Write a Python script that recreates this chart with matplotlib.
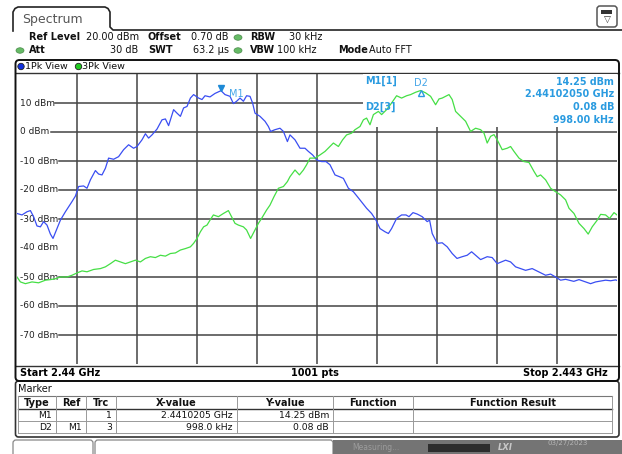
import numpy as np
import matplotlib
matplotlib.use("Agg")
import matplotlib.pyplot as plt
from matplotlib.patches import Rectangle, FancyBboxPatch, Ellipse, Circle

plt.rcParams['font.family'] = ['DejaVu Sans']

# frequency axis (MHz)
f_start = 2440.0
f_stop = 2443.0

# trace 1 (1Pk View, blue) - offset from start in MHz / level in dBm
blue_off = [0.000, 0.025, 0.050, 0.067, 0.083, 0.100, 0.117, 0.133, 0.150, 0.167,
            0.180, 0.197, 0.217, 0.242, 0.258, 0.275, 0.292, 0.308, 0.333, 0.350,
            0.367, 0.392, 0.408, 0.425, 0.442, 0.458, 0.483, 0.508, 0.533, 0.558,
            0.583, 0.600, 0.625, 0.642, 0.658, 0.675, 0.700, 0.725, 0.742, 0.758,
            0.783, 0.800, 0.817, 0.833, 0.850, 0.867, 0.883, 0.908, 0.925, 0.940,
            0.965, 0.990, 1.020, 1.040, 1.065, 1.082, 1.098, 1.115, 1.132, 1.148,
            1.165, 1.178, 1.190, 1.215, 1.240, 1.257, 1.268, 1.290, 1.315, 1.332,
            1.352, 1.365, 1.390, 1.415, 1.440, 1.457, 1.478, 1.498, 1.523, 1.545,
            1.565, 1.590, 1.612, 1.632, 1.657, 1.682, 1.702, 1.748, 1.773, 1.795,
            1.815, 1.840, 1.857, 1.873, 1.898, 1.923, 1.945, 1.960, 1.980, 2.001,
            2.026, 2.051, 2.063, 2.076, 2.101, 2.126, 2.151, 2.176, 2.200, 2.226,
            2.251, 2.273, 2.318, 2.351, 2.376, 2.401, 2.443, 2.468, 2.493, 2.518,
            2.543, 2.576, 2.608, 2.643, 2.668, 2.693, 2.718, 2.743, 2.784, 2.810,
            2.843, 2.868, 2.893, 2.918, 2.943, 2.968, 2.993, 3.000]
blue_dbm = [-28.1, -28.6, -27.5, -27.1, -29.2, -32.4, -32.7, -30.9, -32.1, -35.2,
            -36.7, -33.8, -30.4, -27.5, -25.8, -24.0, -22.1, -18.8, -18.6, -19.4,
            -16.5, -13.3, -14.5, -14.8, -12.5, -9.0, -9.4, -8.5, -6.1, -4.4,
            -5.6, -5.0, -2.7, -0.6, -2.1, -1.0, 1.0, 4.2, 4.5, 2.2,
            7.7, 6.5, 5.4, 8.3, 8.8, 11.7, 12.9, 11.7, 11.2, 12.5,
            12.1, 13.3, 14.25, 12.9, 12.3, 9.8, 10.6, 11.7, 10.6, 12.5,
            12.3, 10.0, 6.5, 5.4, 3.7, 1.9, 0.2, 0.8, 1.3, 0.2,
            -3.3, -1.0, -2.7, -5.6, -5.6, -6.7, -7.9, -9.6, -10.2, -10.2,
            -11.3, -14.8, -15.4, -16.0, -19.4, -20.6, -22.3, -26.3, -28.1, -30.4,
            -33.3, -34.4, -35.0, -33.3, -29.8, -28.6, -28.6, -29.2, -27.8, -28.3,
            -29.2, -30.9, -30.4, -35.0, -38.4, -38.2, -39.6, -41.9, -43.6, -43.0,
            -42.5, -41.3, -44.0, -43.0, -43.3, -45.4, -44.2, -44.8, -46.5, -47.1,
            -47.7, -47.1, -48.2, -49.4, -49.0, -50.0, -51.1, -50.8, -51.5, -50.9,
            -51.7, -52.3, -51.7, -51.4, -51.1, -51.3, -51.0, -51.2]

# trace 3 (3Pk View, green)
green_off = [0.000, 0.017, 0.042, 0.075, 0.108, 0.142, 0.167, 0.192, 0.217, 0.250,
             0.275, 0.300, 0.325, 0.350, 0.383, 0.417, 0.442, 0.467, 0.492, 0.517,
             0.542, 0.567, 0.592, 0.617, 0.642, 0.667, 0.692, 0.717, 0.742, 0.767,
             0.792, 0.817, 0.842, 0.867, 0.883, 0.900, 0.917, 0.933, 0.950, 0.965,
             0.982, 1.007, 1.032, 1.057, 1.073, 1.090, 1.107, 1.132, 1.148, 1.168,
             1.190, 1.207, 1.223, 1.248, 1.265, 1.285, 1.307, 1.332, 1.352, 1.365,
             1.390, 1.412, 1.432, 1.448, 1.465, 1.490, 1.515, 1.540, 1.565, 1.582,
             1.607, 1.628, 1.648, 1.673, 1.690, 1.715, 1.732, 1.748, 1.765, 1.782,
             1.807, 1.823, 1.848, 1.873, 1.898, 1.923, 1.948, 1.968, 1.993, 2.018,
             2.043, 2.068, 2.093, 2.110, 2.126, 2.143, 2.160, 2.176, 2.193, 2.218,
             2.243, 2.268, 2.293, 2.318, 2.335, 2.351, 2.368, 2.385, 2.401, 2.426,
             2.451, 2.468, 2.485, 2.510, 2.535, 2.560, 2.585, 2.601, 2.618, 2.643,
             2.668, 2.693, 2.718, 2.743, 2.760, 2.785, 2.810, 2.835, 2.856, 2.876,
             2.901, 2.918, 2.943, 2.963, 2.985, 3.000]
green_dbm = [-50.0, -51.7, -52.3, -51.7, -52.0, -51.1, -50.9, -50.6, -50.0, -50.0,
             -49.4, -48.6, -47.9, -48.2, -47.4, -47.1, -46.5, -45.4, -44.2, -44.8,
             -45.4, -44.8, -44.2, -44.8, -43.6, -43.0, -43.3, -42.5, -42.8, -41.9,
             -41.7, -40.7, -40.2, -39.6, -38.4, -36.7, -34.4, -32.7, -32.1, -30.4,
             -28.6, -29.2, -28.1, -27.1, -29.2, -31.5, -32.1, -32.7, -33.8, -36.7,
             -33.8, -31.5, -29.8, -26.9, -25.2, -22.3, -19.4, -18.8, -17.1, -15.4,
             -13.1, -14.8, -13.1, -11.3, -9.0, -9.0, -7.9, -6.7, -5.0, -3.8,
             -5.0, -2.7, -1.0, -0.4, 0.8, 1.9, 4.2, 4.8, 2.5, 6.0,
             7.1, 6.0, 7.7, 10.0, 12.5, 11.7, 12.5, 12.9, 13.7, 14.3,
             13.5, 12.3, 9.4, 11.4, 11.7, 12.3, 12.9, 11.2, 7.1, 5.4,
             3.7, 0.2, 1.3, 0.8, -0.4, -3.8, -1.5, -0.9, -2.7, -6.1,
             -5.6, -5.0, -6.7, -9.0, -10.2, -10.5, -13.6, -15.4, -14.8, -16.5,
             -19.4, -20.6, -21.7, -23.4, -26.3, -28.1, -31.5, -33.3, -35.2, -32.7,
             -30.4, -28.4, -28.6, -29.8, -27.8, -28.6]

y_labels = [10, 0, -10, -20, -30, -40, -50, -60, -70]
y_grid = [10, 0, -10, -20, -30, -50, -60, -70]

m1_off, m1_val = 1.0205, 14.25
d2_off, d2_val = 2.0185, 14.33

table_header = ["Type", "Ref", "Trc", "X-value", "Y-value", "Function", "Function Result"]
table_rows = [["M1", "", "1", "2.4410205 GHz", "14.25 dBm", "", ""],
              ["D2", "M1", "3", "998.0 kHz", "0.08 dB", "", ""]]

BLUE = '#3a4ef2'
GREEN = '#45df45'
MK = '#2a9be0'
GRID = '#444444'

fig = plt.figure(figsize=(6.22, 4.54), dpi=100)
fig.patch.set_facecolor('white')

# ---- overlay in pixel coords for the instrument frame ----
ov = fig.add_axes([0, 0, 1, 1])
ov.set_xlim(0, 622)
ov.set_ylim(454, 0)
ov.axis('off')

# spectrum tab
ov.plot([13, 13, 15, 18, 105, 108, 110, 110, 113, 622],
        [31, 12, 8.5, 7, 7, 8.5, 12, 27, 30, 30], color='#222222', lw=1.2)
ov.text(22, 19, "Spectrum", fontsize=9, color='#555555', va='center')

# top right icon
ov.add_patch(FancyBboxPatch((597, 6), 20, 21, boxstyle="round,pad=0,rounding_size=3",
                            fc='white', ec='#555555', lw=1.1))
ov.add_patch(Rectangle((601, 10), 11, 4, fc='#333333', ec='none'))
ov.text(607, 20.5, "\u25bd", fontsize=6.5, ha='center', va='center', color='#333333')

# settings rows
def hdr(x, y, s, bold=False, ha='left'):
    ov.text(x, y, s, fontsize=7.0, fontweight='bold' if bold else 'normal',
            ha=ha, va='center', color='#111111')

hdr(29, 37, "Ref Level", True)
hdr(86, 37, "20.00 dBm")
hdr(148, 37, "Offset", True)
hdr(191, 37, "0.70 dB")
hdr(250, 37, "RBW", True)
hdr(289, 37, "30 kHz")
hdr(29, 50, "Att", True)
hdr(138, 50, "30 dB", ha='right')
hdr(148, 50, "SWT", True)
hdr(193, 50, "63.2 \u00b5s")
hdr(250, 50, "VBW", True)
hdr(277, 50, "100 kHz")
hdr(338, 50, "Mode", True)
hdr(369, 50, "Auto FFT")
for (ex, ey) in [(238, 37.5), (238, 50.5), (20, 50.5)]:
    ov.add_patch(Ellipse((ex, ey), 8, 5.5, fc='#66bb66', ec='#4a8a4a', lw=0.5))

# diagram frame
ov.add_patch(FancyBboxPatch((15.5, 60), 603.5, 321, boxstyle="round,pad=0,rounding_size=4",
                            fc='none', ec='#111111', lw=1.4, zorder=5))
ov.plot([15.5, 619], [72.5, 72.5], color='#333333', lw=1.0)
ov.plot([15.5, 619], [365.5, 365.5], color='#333333', lw=1.0)
ov.add_patch(Circle((21, 66.5), 3.2, fc='#1030e0', ec='#222222', lw=0.6))
ov.text(25, 66.5, "1Pk View", fontsize=6.8, va='center', color='#111111')
ov.add_patch(Circle((78.5, 66.5), 3.2, fc='#20cc20', ec='#222222', lw=0.6))
ov.text(82, 66.5, "3Pk View", fontsize=6.8, va='center', color='#111111')

ov.text(20, 373, "Start 2.44 GHz", fontsize=7, fontweight='bold', va='center')
ov.text(315, 373, "1001 pts", fontsize=7, fontweight='bold', va='center', ha='center')
ov.text(608, 373, "Stop 2.443 GHz", fontsize=7, fontweight='bold', va='center', ha='right')

# marker table
ov.add_patch(FancyBboxPatch((15.5, 381), 603.5, 56, boxstyle="round,pad=0,rounding_size=3",
                            fc='none', ec='#333333', lw=1.2))
ov.text(18, 388.5, "Marker", fontsize=7, va='center', color='#111111')
col_x = [18, 56, 86, 116, 237, 333, 413, 612]
row_y = [396, 409, 421, 433]
ov.plot([col_x[0], col_x[-1]], [row_y[0], row_y[0]], color='#777777', lw=0.8)
ov.plot([col_x[0], col_x[-1]], [row_y[1], row_y[1]], color='#333333', lw=1.0)
for ry in row_y[2:]:
    ov.plot([col_x[0], col_x[-1]], [ry, ry], color='#999999', lw=0.7)
for cx in col_x:
    ov.plot([cx, cx], [row_y[0], row_y[-1]], color='#999999', lw=0.7)
for i, h in enumerate(table_header):
    ov.text((col_x[i] + col_x[i + 1]) / 2, 402.5, h, fontsize=7, fontweight='bold',
            ha='center', va='center', color='#111111')
for r, row in enumerate(table_rows):
    yy = (row_y[r + 1] + row_y[r + 2]) / 2
    for i, v in enumerate(row):
        if v:
            ov.text(col_x[i + 1] - 4, yy, v, fontsize=6.7, ha='right', va='center',
                    color='#111111')

# status bar
ov.add_patch(FancyBboxPatch((13, 440), 80, 20, boxstyle="round,pad=0,rounding_size=3",
                            fc='white', ec='#888888', lw=0.9))
ov.add_patch(FancyBboxPatch((95, 440), 238, 20, boxstyle="round,pad=0,rounding_size=3",
                            fc='white', ec='#888888', lw=0.9))
ov.add_patch(Rectangle((333, 440), 289, 14, fc='#747474', ec='none'))
ov.text(352, 447.5, "Measuring...", fontsize=5.5, color='#9c9c9c', va='center')
ov.add_patch(Rectangle((428, 444), 62, 8, fc='#2d2d2d', ec='none'))
ov.text(498, 447.5, "LXI", fontsize=6, fontstyle='italic', fontweight='bold',
        color='#c8c8c8', va='center')
ov.text(548, 443, "03/27/2023", fontsize=5, color='#b4b4b4', va='center')

# ---- diagram ----
ax = fig.add_axes([17 / 622, 90 / 454, 600 / 622, 290 / 454])
ax.set_xlim(f_start, f_stop)
ax.set_ylim(-80, 20)
ax.patch.set_alpha(0)
for s in ax.spines.values():
    s.set_visible(False)
ax.set_xticks([])
ax.set_yticks([])

span = f_stop - f_start
for k in range(1, 10):
    ax.axvline(f_start + span * k / 10, color=GRID, lw=1.1, zorder=1)
for v in y_labels:
    lab = "%d dBm" % v
    ax.text(f_start + 0.013, v, lab, fontsize=6.5, va='center', ha='left',
            color='#222222', zorder=2)
    if v in y_grid:
        ax.axhline(v, xmin=0.022 + 0.0068 * len(lab), xmax=1, color=GRID, lw=1.1, zorder=1)

# marker info area
ax.add_patch(Rectangle((f_start + 1.73, 1.8), 1.27, 18.5, fc='white', ec='none', zorder=2))

ax.plot(f_start + np.array(blue_off), blue_dbm, color=BLUE, lw=0.9, zorder=3)
ax.plot(f_start + np.array(green_off), green_dbm, color=GREEN, lw=0.9, zorder=3)

ax.plot(f_start + m1_off, m1_val + 1.0, marker='v', ms=5, color='#1e8ad6', zorder=4)
ax.text(f_start + m1_off + 0.04, m1_val - 1.1, "M1", fontsize=7, color='#45a6e8',
        va='center', zorder=4)
ax.plot(f_start + d2_off, d2_val - 0.8, marker='^', ms=5, mfc='none', mec=MK,
        mew=1.0, zorder=4)
ax.text(f_start + d2_off, d2_val + 2.5, "D2", fontsize=7, color='#45a6e8',
        ha='center', va='center', zorder=4)

ax.text(f_start + 1.74, 17.6, "M1[1]", fontsize=6.9, fontweight='bold', color=MK, zorder=4, va='center')
ax.text(f_start + 1.74, 8.6, "D2[3]", fontsize=6.9, fontweight='bold', color=MK, zorder=4, va='center')
info = ["14.25 dBm", "2.44102050 GHz", "0.08 dB", "998.00 kHz"]
info_y = [17.4, 13.1, 8.6, 4.1]
for s, yy in zip(info, info_y):
    ax.text(f_start + 2.985, yy, s, fontsize=6.9, fontweight='bold', color=MK,
            ha='right', va='center', zorder=4)

fig.savefig("out.png", dpi=100)
